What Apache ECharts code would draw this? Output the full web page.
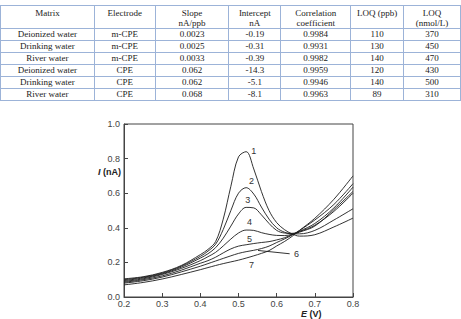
<!DOCTYPE html>
<html>
<head>
<meta charset="utf-8">
<script src="https://cdn.jsdelivr.net/npm/echarts@6.0.0/dist/echarts.min.js"></script>
<style>
html,body{margin:0;padding:0;background:#fff;width:461px;height:319px;overflow:hidden;}
#main{position:absolute;left:0;top:0;width:461px;height:319px;}
#tbl{position:absolute;left:0;top:5px;z-index:2;border-collapse:collapse;font-family:Liberation Serif, Times New Roman, serif;}
#tbl td,#tbl th{font-family:Liberation Serif, Times New Roman, serif;font-size:9px;color:#222;
  border:1px solid #9cb3d8;padding:0;text-align:center;font-weight:normal;
  height:11px;line-height:11px;white-space:nowrap;}
#tbl th{height:20px;line-height:10px;vertical-align:top;padding-top:2px;}
</style>
</head>
<body>
<div id="main"></div>
<table id="tbl"><thead id="thead"></thead><tbody id="tbody"></tbody></table>
<script>
/*表格数据*/
var headers=['Matrix','Electrode','Slope<br>nA/ppb','Intercept<br>nA','Correlation<br>coefficient','LOQ (ppb)','LOQ<br>(nmol/L)'];
var colWidths=[93,60,73,51,69,52,56];
var matrix=['Deionized water','Drinking water','River water','Deionized water','Drinking water','River water'];
var electrode=['m-CPE','m-CPE','m-CPE','CPE','CPE','CPE'];
var slope=['0.0023','0.0025','0.0033','0.062','0.062','0.068'];
var intercept=['-0.19','-0.31','-0.39','-14.3','-5.1','-8.1'];
var corr=['0.9984','0.9931','0.9982','0.9959','0.9946','0.9963'];
var loqPpb=['110','130','140','120','140','89'];
var loqNmol=['370','450','470','430','500','310'];

/*曲线数据 E (V) / I (nA)*/
var potential=[0.20,0.25,0.30,0.35,0.40,0.42,0.44,0.46,0.48,0.50,0.52,0.54,0.56,0.58,0.60,0.62,0.64,0.66,0.70,0.75,0.80];
var curve1=[0.105,0.117,0.142,0.182,0.245,0.275,0.32,0.45,0.64,0.81,0.84,0.74,0.61,0.50,0.43,0.39,0.365,0.352,0.36,0.405,0.456];
var curve2=[0.10,0.114,0.138,0.178,0.235,0.265,0.305,0.39,0.50,0.60,0.632,0.595,0.52,0.45,0.40,0.375,0.365,0.365,0.385,0.445,0.51];
var curve3=[0.095,0.11,0.134,0.172,0.225,0.25,0.285,0.34,0.41,0.48,0.518,0.515,0.475,0.425,0.385,0.37,0.368,0.378,0.415,0.495,0.60];
var curve4=[0.09,0.105,0.13,0.165,0.21,0.233,0.258,0.295,0.335,0.37,0.387,0.385,0.372,0.362,0.356,0.355,0.362,0.375,0.41,0.505,0.61];
var curve5=[0.085,0.10,0.122,0.155,0.195,0.21,0.23,0.255,0.278,0.294,0.302,0.309,0.315,0.32,0.33,0.342,0.36,0.38,0.425,0.515,0.635];
var curve6=[0.08,0.094,0.115,0.145,0.178,0.193,0.208,0.223,0.238,0.252,0.262,0.27,0.28,0.294,0.315,0.335,0.358,0.385,0.445,0.535,0.655];
var curve7=[0.07,0.084,0.104,0.13,0.158,0.17,0.182,0.193,0.203,0.213,0.225,0.238,0.252,0.268,0.295,0.32,0.35,0.385,0.455,0.565,0.70];
var curves=[curve1,curve2,curve3,curve4,curve5,curve6,curve7];
var curveNames=['1','2','3','4','5','6','7'];
//曲线编号的位置
var labelE=[0.540,0.534,0.524,0.529,0.529,0.652,0.534];
var labelI=[0.846,0.668,0.562,0.431,0.335,0.249,0.187];
//6号的引线
var leader6=[[0.551,0.269],[0.634,0.250]];

var xTicks=[0.2,0.8,0.1];
var yTicks=[0,1.0,0.2];

/*填写表格*/
function drawTable(){
    var h='<tr>';
    for(var i=0;i<headers.length;i++){
        h=h+'<th style="width:'+colWidths[i]+'px">'+headers[i]+'</th>';
    }
    h=h+'</tr>';
    document.getElementById('thead').innerHTML=h;
    var context='';
    for(var r=0;r<matrix.length;r++){
        context=context+'<tr><td>'+matrix[r]+'</td><td>'+electrode[r]+'</td><td>'+slope[r]
            +'</td><td>'+intercept[r]+'</td><td>'+corr[r]+'</td><td>'+loqPpb[r]+'</td><td>'+loqNmol[r]+'</td></tr>';
    }
    document.getElementById('tbody').innerHTML=context;
}

/*画图*/
function paintForm(){
    var myChart=echarts.init(document.getElementById('main'),null,{renderer:'svg'});
    var series=[];
    for(var k=0;k<curves.length;k++){
        var pts=[];
        for(var j=0;j<potential.length;j++){
            pts.push([potential[j],curves[k][j]]);
        }
        var s={
            name:curveNames[k],
            type:'line',
            data:pts,
            smooth:0.35,
            showSymbol:false,
            silent:true,
            lineStyle:{color:'#1c1c1c',width:0.9},
            markPoint:{
                symbol:'circle',
                symbolSize:0,
                silent:true,
                label:{show:true,position:'inside',formatter:'{b}',color:'#333',fontSize:9,
                    fontFamily:'Liberation Sans, Arial, sans-serif'},
                data:[{name:curveNames[k],coord:[labelE[k],labelI[k]]}]
            }
        };
        if(k==5){
            s.markLine={
                symbol:'none',
                silent:true,
                label:{show:false},
                lineStyle:{color:'#1c1c1c',width:0.9,type:'solid'},
                data:[[{coord:leader6[0]},{coord:leader6[1]}]]
            };
        }
        series.push(s);
    }
    var axisFont={color:'#444',fontSize:9,fontFamily:'Liberation Sans, Arial, sans-serif'};
    var option={
        animation:false,
        grid:{left:124,top:124,width:229,height:173,show:true,borderColor:'#444',borderWidth:1,backgroundColor:'transparent'},
        xAxis:{
            type:'value',min:xTicks[0],max:xTicks[1],interval:xTicks[2],
            axisLine:{lineStyle:{color:'#444',width:1}},
            axisTick:{inside:true,length:4,lineStyle:{color:'#444'}},
            splitLine:{show:false},
            axisLabel:Object.assign({margin:2,formatter:function(v){return v.toFixed(1);}},axisFont)
        },
        yAxis:{
            type:'value',min:yTicks[0],max:yTicks[1],interval:yTicks[2],
            axisLine:{show:true,lineStyle:{color:'#444',width:1}},
            axisTick:{show:true,inside:true,length:4,lineStyle:{color:'#444'}},
            splitLine:{show:false},
            axisLabel:Object.assign({margin:4,formatter:function(v){return v.toFixed(1);}},axisFont)
        },
        graphic:[
            {type:'text',left:98,top:167,style:{text:'{i|I}{b| (nA)}',
                rich:{i:{fontStyle:'italic',fontWeight:'bold',fontSize:9,fill:'#222',fontFamily:'Liberation Sans, Arial, sans-serif'},
                      b:{fontWeight:'bold',fontSize:9,fill:'#222',fontFamily:'Liberation Sans, Arial, sans-serif'}}}},
            {type:'text',left:301,top:309,style:{text:'{i|E}{b| (V)}',
                rich:{i:{fontStyle:'italic',fontWeight:'bold',fontSize:9,fill:'#222',fontFamily:'Liberation Sans, Arial, sans-serif'},
                      b:{fontWeight:'bold',fontSize:9,fill:'#222',fontFamily:'Liberation Sans, Arial, sans-serif'}}}}
        ],
        series:series
    };
    myChart.setOption(option);
}

drawTable();
paintForm();
</script>
</body>
</html>
